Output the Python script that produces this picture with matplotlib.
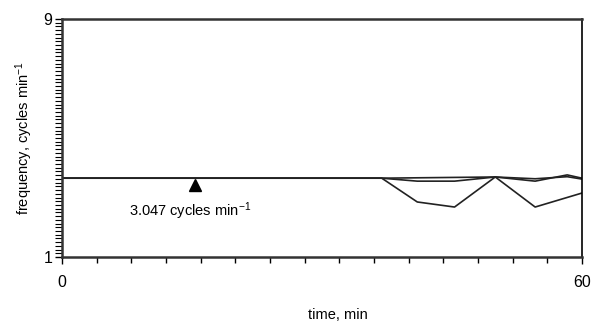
import numpy as np
import matplotlib.pyplot as plt
from matplotlib.ticker import MultipleLocator

plt.rcParams['font.family'] = ['Liberation Sans', 'DejaVu Sans']
plt.rcParams['mathtext.default'] = 'regular'

# dữ liệu
t_base = [0, 36.9, 50.0, 54.6, 58.3, 60]
f_base = [3.65, 3.65, 3.69, 3.63, 3.70, 3.62]

t_low = [0, 36.9, 41.0, 45.3, 50.0, 54.6, 60]
f_low = [3.65, 3.65, 2.85, 2.68, 3.69, 2.68, 3.15]

t_mid = [0, 36.9, 41.0, 45.3, 50.0, 54.6, 58.3, 60]
f_mid = [3.65, 3.65, 3.55, 3.55, 3.69, 3.55, 3.76, 3.65]

marker_t, marker_f = 15.3, 3.42
label_text = "3.047 cycles min$^{-1}$"

fig = plt.figure(figsize=(5.92, 3.23), dpi=100)
ax = fig.add_axes([0.1047, 0.2043, 0.8783, 0.7368])

for t, f in [(t_base, f_base), (t_mid, f_mid), (t_low, f_low)]:
    ax.plot(t, f, color="#222222", lw=1.2)

ax.plot(marker_t, marker_f, marker="^", color="black", ms=9, ls="none")
ax.text(marker_t - 0.5, 2.55, label_text, ha="center", va="center", fontsize=10.5)

ax.set_xlim(0, 60)
ax.set_ylim(1, 9)
ax.set_xticks([0, 60])
ax.set_yticks([1, 9])
ax.xaxis.set_minor_locator(MultipleLocator(4))
ax.yaxis.set_minor_locator(MultipleLocator(0.125))
ax.tick_params(axis="x", which="major", direction="out", length=5, width=1, labelsize=11.5, pad=8)
ax.tick_params(axis="y", which="major", direction="out", length=5, width=1, labelsize=11.5, pad=2)
ax.tick_params(axis="x", which="minor", direction="out", length=4, width=1)
ax.tick_params(axis="y", which="minor", direction="out", length=5, width=0.8)

for s in ["left", "bottom", "top"]:
    ax.spines[s].set_linewidth(1.8)
    ax.spines[s].set_color("#333333")
ax.spines["right"].set_linewidth(1.2)

ax.set_xlabel("time, min", fontsize=10.5)
ax.xaxis.set_label_coords(0.53, -0.215)
ax.set_ylabel("frequency, cycles min$^{-1}$", fontsize=10.5, labelpad=6)

plt.savefig("out.png", dpi=100)
